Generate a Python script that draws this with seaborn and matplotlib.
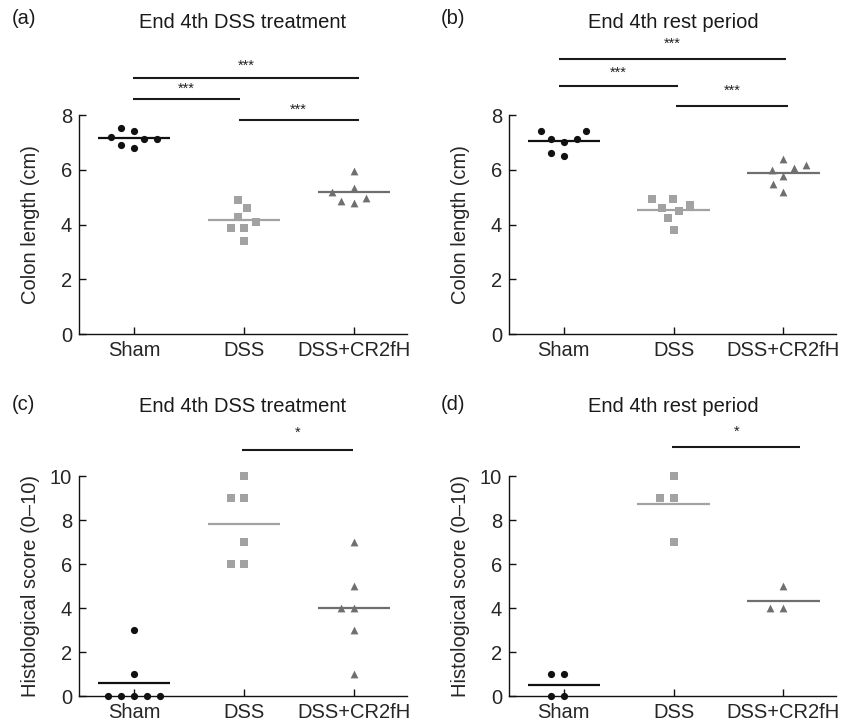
import numpy as np
import pandas as pd
import matplotlib
matplotlib.use("Agg")
import matplotlib.pyplot as plt
import seaborn as sns

# ---------------- data ----------------
groups = ["Sham", "DSS", "DSS+CR2fH"]

a_sham = [7.21, 7.11, 7.53, 6.81, 7.40, 6.91, 7.11]
a_dss = [4.29, 4.60, 4.90, 3.89, 3.89, 3.40, 4.10]
a_cr = [5.97, 5.33, 4.96, 4.78, 4.86, 5.17]

b_sham = [7.43, 7.12, 6.52, 7.03, 6.61, 7.12, 7.43]
b_dss = [4.72, 4.92, 4.92, 4.51, 4.62, 4.23, 3.81]
b_cr = [6.18, 5.99, 6.40, 5.78, 6.05, 5.48, 5.18]

c_sham = [0, 0, 0, 0, 0, 1, 3]
c_dss = [10, 9, 9, 7, 6, 6]
c_cr = [7, 5, 4, 4, 3, 1]

d_sham = [1, 1, 0, 0]
d_dss = [10, 9, 9, 7]
d_cr = [5, 4, 4]

titles = ["End 4th DSS treatment", "End 4th rest period",
          "End 4th DSS treatment", "End 4th rest period"]
letters = ["(a)", "(b)", "(c)", "(d)"]
ylabels = ["Colon length (cm)", "Colon length (cm)",
           "Histological score (0\u201310)", "Histological score (0\u201310)"]

# significance bars: (x_start, x_end, bar_y, star_y, label)
sig_a = [(-0.01, 2.04, 9.34, 9.78, "***"), (-0.01, 0.96, 8.58, 8.94, "***"),
         (0.95, 2.04, 7.80, 8.20, "***")]
sig_b = [(-0.04, 2.02, 10.03, 10.60, "***"), (-0.04, 1.04, 9.07, 9.55, "***"),
         (1.02, 2.04, 8.33, 8.88, "***")]
sig_c = [(0.98, 1.99, 11.2, 11.95, "*")]
sig_d = [(0.99, 2.15, 11.33, 12.03, "*")]

# ---------------- style ----------------
sns.set_style("ticks")
plt.rcParams["font.family"] = ["Liberation Sans", "DejaVu Sans"]
FS = 14.5

colors = ["#111111", "#a2a2a2", "#6f6f6f"]
markers = ["o", "s", "^"]
msizes = [5.2, 5.2, 5.6]
LAYOUT_SIZE = 9.0  # spacing used by the swarm layout (GraphPad-like spread)

W, H = 853, 728
fig = plt.figure(figsize=(W / 100, H / 100), dpi=100)

# axes rectangles in pixels: left, right, bottom(y from top), top(y from top)
rects = [(79, 407, 334, 115), (509, 836, 334, 115),
         (79, 407, 696, 476), (509, 836, 696, 476)]
datasets = [(a_sham, a_dss, a_cr), (b_sham, b_dss, b_cr),
            (c_sham, c_dss, c_cr), (d_sham, d_dss, d_cr)]
sigs = [sig_a, sig_b, sig_c, sig_d]
ylims = [(0, 8), (0, 8), (0, 10), (0, 10)]
title_pos = [(243, 23), (673, 23), (243, 407), (673, 407)]
letter_pos = [(12, 18), (441, 18), (12, 404), (441, 404)]

swarm_colls = []  # (collection, final marker size)

for k in range(4):
    l, r, b, t = rects[k]
    ax = fig.add_axes([l / W, (H - b) / H, (r - l) / W, (b - t) / H])
    ax.set_xlim(-0.5, 2.48)
    ax.set_ylim(*ylims[k])
    vals = datasets[k]
    df = pd.DataFrame({
        "group": np.repeat(groups, [len(v) for v in vals]),
        "value": np.concatenate([np.asarray(v, float) for v in vals]),
    })
    # mean lines
    for i, g in enumerate(groups):
        m = np.mean(vals[i])
        ax.hlines(m, i - 0.33, i + 0.33, color=colors[i], lw=1.6, zorder=2)
    # points
    for i, g in enumerate(groups):
        n0 = len(ax.collections)
        sns.swarmplot(data=df[df["group"] == g], x="group", y="value",
                      order=groups, color=colors[i], marker=markers[i],
                      size=LAYOUT_SIZE, linewidth=0, ax=ax, zorder=3,
                      warn_thresh=1.0)
        for coll in ax.collections[n0:]:
            if len(coll.get_offsets()):
                swarm_colls.append((coll, msizes[i]))

    ax.set_xlim(-0.5, 2.48)
    ax.set_ylim(*ylims[k])
    ax.set_yticks(np.arange(ylims[k][0], ylims[k][1] + 0.1, 2))
    ax.set_xticks([0, 1, 2])
    ax.set_xticklabels(groups)
    ax.set_xlabel("")
    ax.set_ylabel(ylabels[k], fontsize=FS)
    ax.yaxis.set_label_coords(-0.12, 0.5)
    ax.tick_params(axis="both", direction="in", length=5, width=1,
                   labelsize=FS, pad=5, color="#111111")
    sns.despine(ax=ax)
    for s in ["left", "bottom"]:
        ax.spines[s].set_linewidth(1.0)
        ax.spines[s].set_color("#111111")

    # significance bars
    for (x0, x1, yb, ys, lab) in sigs[k]:
        ax.plot([x0, x1], [yb, yb], color="#1a1a1a", lw=1.5, clip_on=False,
                solid_capstyle="butt")
        ax.text((x0 + x1) / 2, ys, lab, ha="center", va="center",
                fontsize=10.5, color="#222222", clip_on=False)

    tx, ty = title_pos[k]
    fig.text(tx / W, 1 - ty / H, titles[k], ha="center", va="center",
             fontsize=FS, color="#1a1a1a")
    lx, ly = letter_pos[k]
    fig.text(lx / W, 1 - ly / H, letters[k], ha="left", va="center",
             fontsize=FS, color="#1a1a1a")

# first draw: seaborn lays out the swarms with the wider spacing
fig.canvas.draw()
for coll, ms in swarm_colls:
    if "draw" in coll.__dict__:
        del coll.draw  # keep the computed swarm layout
    coll.set_sizes([ms ** 2])
    coll.set_clip_on(False)

fig.savefig("out.png", dpi=100)
